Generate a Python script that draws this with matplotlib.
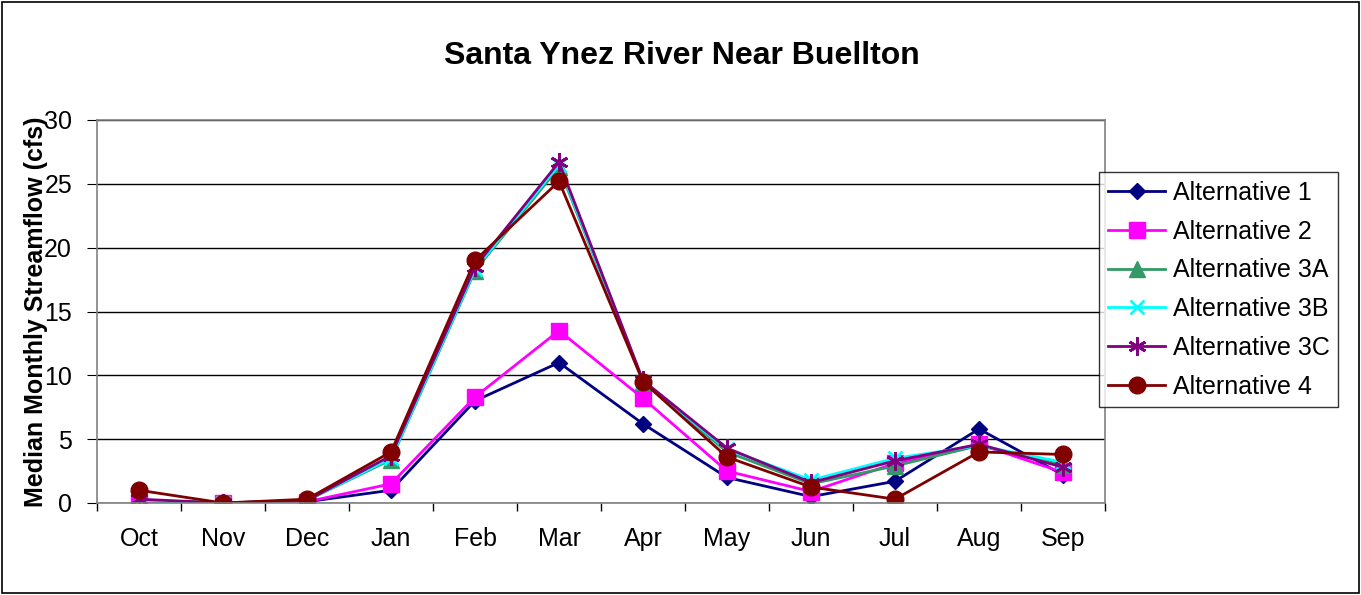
import numpy as np
import matplotlib
matplotlib.use("Agg")
import matplotlib.pyplot as plt
from matplotlib.patches import Rectangle

plt.rcParams['font.family'] = ['Liberation Sans', 'DejaVu Sans']

months = ['Oct', 'Nov', 'Dec', 'Jan', 'Feb', 'Mar', 'Apr', 'May', 'Jun', 'Jul', 'Aug', 'Sep']

alt1 = [0.2, 0.0, 0.1, 1.0, 8.0, 11.0, 6.2, 2.0, 0.5, 1.7, 5.8, 2.2]
alt2 = [0.1, 0.0, 0.1, 1.5, 8.3, 13.5, 8.2, 2.5, 0.9, 3.1, 4.6, 2.4]
alt3a = [0.2, 0.0, 0.2, 3.4, 18.2, 26.3, 9.5, 4.0, 1.5, 2.9, 4.5, 3.0]
alt3b = [0.2, 0.0, 0.2, 3.5, 18.3, 26.5, 9.5, 4.2, 1.8, 3.5, 4.5, 3.2]
alt3c = [0.3, 0.0, 0.2, 3.7, 18.5, 26.7, 9.6, 4.3, 1.6, 3.3, 4.6, 2.8]
alt4 = [1.0, 0.0, 0.3, 4.0, 19.0, 25.2, 9.5, 3.6, 1.25, 0.3, 4.0, 3.8]

series = [
    ('Alternative 1', alt1, '#000080', 'D', 8),
    ('Alternative 2', alt2, '#FF00FF', 's', 11),
    ('Alternative 3A', alt3a, '#339966', '^', 11),
    ('Alternative 3B', alt3b, '#00FFFF', 'x', 10),
    ('Alternative 3C', alt3c, '#800080', (6, 2, 0), 13),
    ('Alternative 4', alt4, '#800000', 'o', 12),
]

fig = plt.figure(figsize=(13.61, 5.95), dpi=100)
ax = fig.add_axes([97 / 1361, 1 - 503 / 595, 1008 / 1361, 383 / 595])

# outer chart border
fig.patches.append(Rectangle((2 / 1361, 2 / 595), 1357 / 1361, 591 / 595,
                             transform=fig.transFigure, fill=False,
                             edgecolor='black', linewidth=1.2))

x = np.arange(len(months))
for name, vals, color, marker, ms in series:
    mew = 2 if marker in ('x', (6, 2, 0)) else 1
    ax.plot(x, vals, color=color, linewidth=2, marker=marker, markersize=ms,
            markeredgewidth=mew, label=name)

ax.set_xlim(-0.5, 11.5)
ax.set_ylim(0, 30)
ax.set_yticks(range(0, 31, 5))
ax.set_xticks(x)
ax.set_xticklabels(months)
ax.set_xticks(np.arange(-0.5, 12, 1), minor=True)
ax.tick_params(axis='x', which='major', length=0, labelsize=18, pad=17)
ax.tick_params(axis='x', which='minor', length=6, direction='out', width=1)
ax.tick_params(axis='y', length=7, direction='out', labelsize=18, pad=11)
ax.yaxis.grid(True, color='black', linewidth=1)
ax.set_axisbelow(True)
for s in ax.spines.values():
    s.set_color('#808080')
    s.set_linewidth(1.2)

fig.text(682 / 1361, 1 - 56 / 595, 'Santa Ynez River Near Buellton',
         ha='center', va='center', fontsize=23, fontweight='bold')
fig.text(36 / 1361, 1 - 312 / 595, 'Median Monthly Streamflow (cfs)',
         ha='center', va='center', rotation=90, fontsize=18, fontweight='bold')

leg = fig.legend(loc='upper left', bbox_to_anchor=(1099 / 1361, 1 - 172 / 595),
                 fontsize=18, frameon=True, fancybox=False, edgecolor='black',
                 handlelength=2.3, labelspacing=0.59, borderpad=0.35,
                 handletextpad=0.3, borderaxespad=0)
leg.get_frame().set_linewidth(1)

fig.savefig('out.png', dpi=100)
